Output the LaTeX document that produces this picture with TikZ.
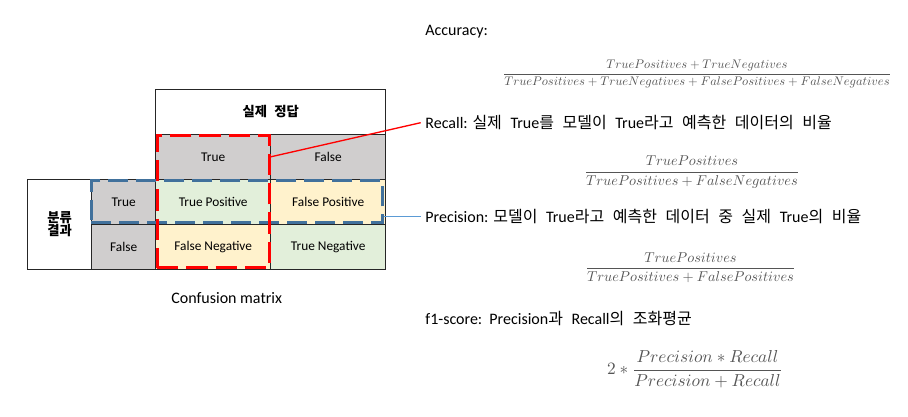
\documentclass[tikz,border=0pt]{standalone}
\usepackage[no-math]{fontspec}
\setmainfont{Carlito}
\newfontfamily\kr[WordSpace=2.4]{Noto Sans CJK KR}
\usepackage{tikz}
\usetikzlibrary{positioning,fit}
\usepackage{xcolor}
\definecolor{cgray}{HTML}{D0CECE}
\definecolor{cgreen}{HTML}{E2EFDA}
\definecolor{cyellow}{HTML}{FFF2CC}
\definecolor{recallred}{HTML}{FF0000}
\definecolor{precblue}{HTML}{41719C}
\definecolor{precline}{HTML}{5B9BD5}
\definecolor{mathgray}{HTML}{555555}

\begin{document}
\begin{tikzpicture}[x=0.75pt,y=-0.75pt,
    cell/.style={draw=black!85, line width=0.75pt, outer sep=0pt, inner sep=0pt,
      minimum width=86.25pt, minimum height=33.75pt, font=\fontsize{10}{12}\selectfont},
    recallbox/.style={draw=recallred, line width=2.25pt, dash pattern=on 16pt off 6pt},
    precbox/.style={draw=precblue, line width=2.25pt, dash pattern=on 15pt off 6pt},
    txt/.style={anchor=west, font=\fontsize{12}{14}\selectfont},
    formula/.style={text=mathgray}]
    \useasboundingbox (0,0) rectangle (908,417);
    \node[cell, fill=white, minimum width=172.5pt] (actual) at (270.7,111.8) {\kr\bfseries 실제 정답};
    \node[cell, fill=cgray, anchor=north west] (actT) at (actual.south west) {True};
    \node[cell, fill=cgray, anchor=west] (actF) at (actT.east) {False};
    \node[cell, fill=cgreen, anchor=north] (tp) at (actT.south) {True Positive};
    \node[cell, fill=cyellow, anchor=west] (fp) at (tp.east) {False Positive};
    \node[cell, fill=cyellow, anchor=north] (fn) at (tp.south) {False Negative};
    \node[cell, fill=cgreen, anchor=west] (tn) at (fn.east) {True Negative};
    \node[cell, fill=cgray, minimum width=48pt, anchor=east] (predT) at (tp.west) {True};
    \node[cell, fill=cgray, minimum width=48pt, anchor=east] (predF) at (fn.west) {False};
    \node[cell, fill=white, minimum width=48pt, minimum height=67.5pt, anchor=north east, align=center]
      (pred) at (predT.north west) {\kr\bfseries 분류\\[-2pt]\kr\bfseries 결과};
    \node[precbox, fit=(predT)(fp), inner sep=-1pt, xshift=-1.5pt] (precframe) {};
    \node[recallbox, fit=(actT)(fn), inner sep=-1pt] (recframe) {};
    \node[font=\fontsize{12}{14}\selectfont] (caption) at (226.7,298) {Confusion matrix};

    \node[txt] (accuracy) at (420.7,32) {Accuracy:};
    \node[txt] (recall) at (420.7,122.7) {Recall: {\kr 실제\ }True{\kr 를 모델이\ }True{\kr 라고 예측한 데이터의 비율}};
    \node[txt] (precision) at (420.7,216.7) {Precision: {\kr 모델이\ }True{\kr 라고 예측한 데이터 중 실제\ }True{\kr 의 비율}};
    \node[txt] (fscore) at (420.7,318.3) {f1-score:\ \ Precision{\kr 과\ }Recall{\kr 의 조화평균}};

    \node[formula] (accfrac) at (697,74)
      {\scalebox{0.935}{$\displaystyle\frac{TruePositives+TrueNegatives}{TruePositives+TrueNegatives+FalsePositives+FalseNegatives}$}};
    \node[formula] (recfrac) at (692,172)
      {\scalebox{1.07}{$\displaystyle\frac{TruePositives}{TruePositives+FalseNegatives}$}};
    \node[formula] (precfrac) at (690.5,268)
      {\scalebox{1.07}{$\displaystyle\frac{TruePositives}{TruePositives+FalsePositives}$}};
    \node[formula] (f1frac) at (695,369)
      {\scalebox{1.3}{$\displaystyle 2*\frac{Precision*Recall}{Precision+Recall}$}};

    \draw[recallred, line width=1pt] (recframe.east |- actT) -- (recall.west);
    \draw[precline, line width=1.2pt] (precframe.east |- precision.west) -- (precision.west);
\end{tikzpicture}
\end{document}
